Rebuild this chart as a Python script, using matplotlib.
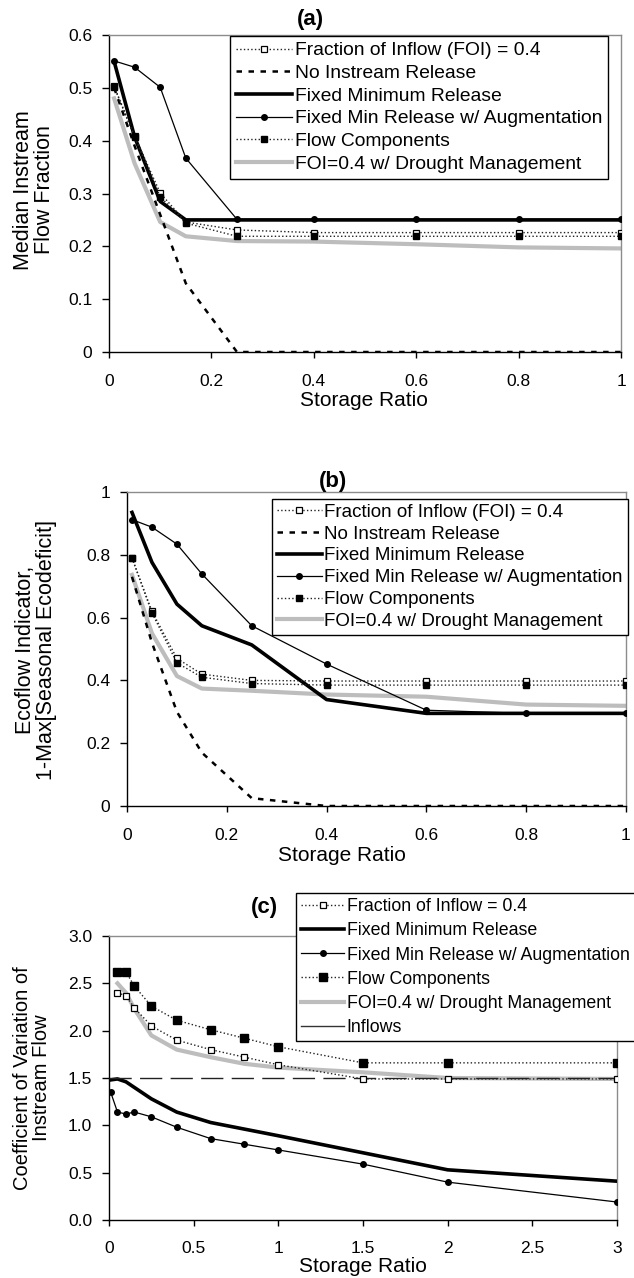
import matplotlib
matplotlib.use('Agg')
import matplotlib.pyplot as plt
from matplotlib.lines import Line2D

plt.rcParams['font.family'] = ['Liberation Sans', 'DejaVu Sans']

# ---------------- data ----------------
x_ab = [0.01, 0.05, 0.1, 0.15, 0.25, 0.4, 0.6, 0.8, 1.0]

a_foi = [0.503, 0.409, 0.301, 0.246, 0.231, 0.226, 0.226, 0.226, 0.226]
a_none = [0.50, 0.39, 0.26, 0.13, 0.0, 0.0, 0.0, 0.0, 0.0]
a_fixed = [0.55, 0.407, 0.285, 0.25, 0.25, 0.25, 0.25, 0.25, 0.25]
a_aug = [0.551, 0.539, 0.501, 0.367, 0.251, 0.251, 0.251, 0.251, 0.251]
a_fc = [0.502, 0.406, 0.294, 0.244, 0.219, 0.219, 0.219, 0.219, 0.219]
a_drought = [0.48, 0.357, 0.246, 0.219, 0.21, 0.209, 0.204, 0.198, 0.196]

b_foi = [0.79, 0.62, 0.47, 0.42, 0.40, 0.398, 0.398, 0.398, 0.398]
b_none = [0.73, 0.52, 0.30, 0.17, 0.025, 0.0, 0.0, 0.0, 0.0]
b_fixed = [0.935, 0.776, 0.643, 0.574, 0.513, 0.339, 0.295, 0.295, 0.295]
b_aug = [0.912, 0.888, 0.834, 0.739, 0.574, 0.452, 0.305, 0.295, 0.295]
b_fc = [0.79, 0.615, 0.456, 0.41, 0.39, 0.385, 0.385, 0.385, 0.385]
b_drought = [0.736, 0.55, 0.414, 0.374, 0.367, 0.355, 0.348, 0.323, 0.319]

x_c = [0.01, 0.05, 0.1, 0.15, 0.25, 0.4, 0.6, 0.8, 1.0, 1.5, 2.0, 3.0]
x_c_sq = [0.05, 0.1, 0.15, 0.25, 0.4, 0.6, 0.8, 1.0, 1.5, 2.0, 3.0]
c_foi = [2.40, 2.37, 2.24, 2.05, 1.90, 1.80, 1.72, 1.64, 1.49, 1.49, 1.49]
c_fc = [2.62, 2.62, 2.47, 2.26, 2.11, 2.01, 1.92, 1.83, 1.66, 1.66, 1.66]
c_drought = [2.50, 2.40, 2.23, 1.95, 1.80, 1.72, 1.65, 1.61, 1.56, 1.50, 1.49]
c_fixed = [1.48, 1.49, 1.46, 1.40, 1.28, 1.14, 1.03, 0.96, 0.89, 0.71, 0.53, 0.41]
c_aug = [1.35, 1.14, 1.12, 1.14, 1.09, 0.98, 0.86, 0.80, 0.74, 0.59, 0.40, 0.19]
inflow_x = [0.0, 3.0]
inflow_cv = [1.5, 1.5]

ab_xticks = [0, 0.2, 0.4, 0.6, 0.8, 1.0]
ab_xticklabels = ['0', '0.2', '0.4', '0.6', '0.8', '1']
a_yticks = [0, 0.1, 0.2, 0.3, 0.4, 0.5, 0.6]
a_yticklabels = ['0', '0.1', '0.2', '0.3', '0.4', '0.5', '0.6']
b_yticks = [0, 0.2, 0.4, 0.6, 0.8, 1.0]
b_yticklabels = ['0', '0.2', '0.4', '0.6', '0.8', '1']
c_xticks = [0, 0.5, 1, 1.5, 2, 2.5, 3]
c_xticklabels = ['0', '0.5', '1', '1.5', '2', '2.5', '3']
c_yticks = [0, 0.5, 1.0, 1.5, 2.0, 2.5, 3.0]
c_yticklabels = ['0.0', '0.5', '1.0', '1.5', '2.0', '2.5', '3.0']

lab_foi = 'Fraction of Inflow (FOI) = 0.4'
lab_foi_c = 'Fraction of Inflow = 0.4'
lab_none = 'No Instream Release'
lab_fixed = 'Fixed Minimum Release'
lab_aug = 'Fixed Min Release w/ Augmentation'
lab_fc = 'Flow Components'
lab_drought = 'FOI=0.4 w/ Drought Management'
lab_inflow = 'Inflows'

# ---------------- layout ----------------
W, H = 634, 1278
fig = plt.figure(figsize=(W / 100, H / 100), dpi=100)


def rect(l, t, r, b):
    return [l / W, 1 - b / H, (r - l) / W, (b - t) / H]


def fx(px):
    return px / W


def fy(py):
    return 1 - py / H


GRAY = '#bdbdbd'
TICK_FS = 12.5


def style_axes(ax, xpad=12):
    for s in ['left', 'bottom']:
        ax.spines[s].set_color('black')
        ax.spines[s].set_linewidth(1.0)
    for s in ['top', 'right']:
        ax.spines[s].set_color('#8c8c8c')
        ax.spines[s].set_linewidth(1.0)
    ax.tick_params(axis='y', direction='out', length=5, width=1, pad=7,
                   labelsize=TICK_FS, right=False)
    ax.tick_params(axis='x', direction='out', length=4, width=1, pad=xpad,
                   labelsize=TICK_FS, top=False)


def plot_ab(ax, foi, none, fixed, aug, fc, drought):
    h = []
    h += ax.plot(x_ab, foi, linestyle=':', color='#222222', lw=1.0,
                 marker='s', ms=4, mfc='white', mec='black', mew=0.9,
                 label=lab_foi, zorder=4)
    h += ax.plot(x_ab, none, linestyle=(0, (2.2, 2.6)), color='black', lw=1.8,
                 label=lab_none, zorder=3)
    h += ax.plot(x_ab, fixed, linestyle='-', color='black', lw=2.6,
                 label=lab_fixed, zorder=3)
    h += ax.plot(x_ab, aug, linestyle='-', color='black', lw=0.9,
                 marker='o', ms=4, mfc='black', mec='black',
                 label=lab_aug, zorder=5)
    h += ax.plot(x_ab, fc, linestyle=':', color='#222222', lw=1.0,
                 marker='s', ms=5, mfc='black', mec='black',
                 label=lab_fc, zorder=4)
    h += ax.plot(x_ab, drought, linestyle='-', color=GRAY, lw=3.0,
                 label=lab_drought, zorder=2)
    return h


def add_legend(handles, x0, y0, fs, spacing, bpad, hlen):
    leg = fig.legend(handles, [h.get_label() for h in handles],
                     loc='upper left',
                     bbox_to_anchor=(fx(x0), fy(y0)), fontsize=fs,
                     frameon=True, fancybox=False, edgecolor='black',
                     framealpha=1, borderpad=bpad, labelspacing=spacing,
                     handlelength=hlen, handletextpad=0.15, borderaxespad=0,
                     numpoints=1)
    leg.get_frame().set_linewidth(1.0)
    return leg


# ---- panel (a) ----
ax_a = fig.add_axes(rect(109, 35, 621, 352))
ha = plot_ab(ax_a, a_foi, a_none, a_fixed, a_aug, a_fc, a_drought)
ax_a.set_xlim(0, 1)
ax_a.set_ylim(0, 0.6)
ax_a.set_xticks(ab_xticks)
ax_a.set_xticklabels(ab_xticklabels)
ax_a.set_yticks(a_yticks)
ax_a.set_yticklabels(a_yticklabels)
style_axes(ax_a, xpad=12)
add_legend(ha, 230, 36, 13.9, 0.27, 0.3, 2.9)
fig.text(fx(310), fy(20), '(a)', fontsize=16, fontweight='bold',
         ha='center', va='center')
fig.text(fx(364), fy(406), 'Storage Ratio', fontsize=15, ha='center',
         va='baseline')
fig.text(fx(34), fy(190), 'Median Instream\nFlow Fraction', fontsize=15.5,
         rotation=90, ha='center', va='center', multialignment='center',
         linespacing=1.0)

# ---- panel (b) ----
ax_b = fig.add_axes(rect(127, 492, 626, 806))
hb = plot_ab(ax_b, b_foi, b_none, b_fixed, b_aug, b_fc, b_drought)
ax_b.set_xlim(0, 1)
ax_b.set_ylim(0, 1)
ax_b.set_xticks(ab_xticks)
ax_b.set_xticklabels(ab_xticklabels)
ax_b.set_yticks(b_yticks)
ax_b.set_yticklabels(b_yticklabels)
style_axes(ax_b, xpad=12)
add_legend(hb, 272, 499, 13.5, 0.25, 0.25, 2.4)
fig.text(fx(333), fy(482), '(b)', fontsize=16, fontweight='bold',
         ha='center', va='center')
fig.text(fx(342), fy(861), 'Storage Ratio', fontsize=15, ha='center',
         va='baseline')
fig.text(fx(36), fy(650), 'Ecoflow Indicator,\n1-Max[Seasonal Ecodeficit]',
         fontsize=15.5, rotation=90, ha='center', va='center',
         multialignment='center', linespacing=1.0)

# ---- panel (c) ----
ax_c = fig.add_axes(rect(109, 936, 617, 1220))
hc = []
hc += ax_c.plot(x_c_sq, c_foi, linestyle=':', color='#222222', lw=1.0,
                marker='s', ms=5, mfc='white', mec='black', mew=0.9,
                label=lab_foi_c, zorder=4)
hc += ax_c.plot(x_c, c_fixed, linestyle='-', color='black', lw=2.6,
                label=lab_fixed, zorder=3)
hc += ax_c.plot(x_c, c_aug, linestyle='-', color='black', lw=0.9,
                marker='o', ms=4, mfc='black', mec='black',
                label=lab_aug, zorder=5)
hc += ax_c.plot(x_c_sq, c_fc, linestyle=':', color='#222222', lw=1.0,
                marker='s', ms=6, mfc='black', mec='black',
                label=lab_fc, zorder=4)
hc += ax_c.plot(x_c_sq, c_drought, linestyle='-', color=GRAY, lw=3.0,
                label=lab_drought, zorder=2)
ax_c.plot(inflow_x, inflow_cv, linestyle=(0, (16, 6)), color='#222222',
          lw=1.0, zorder=3)
hc.append(Line2D([], [], color='#333333', lw=1.0, label=lab_inflow))
ax_c.set_xlim(0, 3)
ax_c.set_ylim(0, 3)
ax_c.set_xticks(c_xticks)
ax_c.set_xticklabels(c_xticklabels)
ax_c.set_yticks(c_yticks)
ax_c.set_yticklabels(c_yticklabels)
style_axes(ax_c, xpad=11)
add_legend(hc, 296, 893, 12.8, 0.4, 0.3, 2.4)
fig.text(fx(264), fy(907), '(c)', fontsize=16, fontweight='bold',
         ha='center', va='center')
fig.text(fx(363), fy(1272), 'Storage Ratio', fontsize=15, ha='center',
         va='baseline')
fig.text(fx(32), fy(1078), 'Coefficient of Variation of\nInstream Flow',
         fontsize=14.5, rotation=90, ha='center', va='center',
         multialignment='center', linespacing=1.0)

fig.savefig('out.png', dpi=100, facecolor='white')
